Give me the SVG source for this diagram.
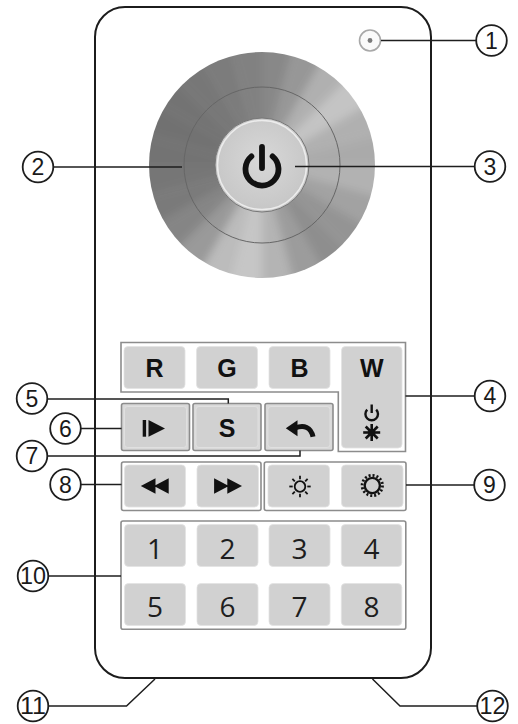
<svg xmlns="http://www.w3.org/2000/svg" width="518" height="724" viewBox="0 0 518 724">
  <style>
    .body { fill: #ffffff; stroke: #1c1c1c; stroke-width: 2; }
    .frame { fill: #ffffff; stroke: #8c8c8c; stroke-width: 1.6; }
    .frame-fill { fill: #d9d9d9; stroke: #8c8c8c; stroke-width: 1.6; }
    .key { fill: #d1d1d1; stroke: #e2e2e2; stroke-width: 0.8; }
    .lbl { font-family: "Liberation Sans", Arial, sans-serif; font-weight: bold; font-size: 25px; fill: #111; text-anchor: middle; }
    .num { font-family: "Open Sans", "Noto Sans", sans-serif; font-size: 28px; fill: #1e1e1e; text-anchor: middle; }
    .icon { fill: #111; }
    .icon-line { fill: none; stroke: #111; }
    .lead { fill: none; stroke: #1e1e1e; stroke-width: 1.5; }
    .badge { fill: #ffffff; stroke: #1e1e1e; stroke-width: 1.8; }
    .badge-t { font-family: "Liberation Sans", Arial, sans-serif; font-size: 23px; fill: #1a1a1a; text-anchor: middle; }
  </style>
  <defs>
    <clipPath id="wheelClip"><circle cx="262" cy="165" r="113"/></clipPath>
    <filter id="soft" x="-20%" y="-20%" width="140%" height="140%">
      <feGaussianBlur stdDeviation="4.5"/>
    </filter>
    <radialGradient id="capFill" cx="50%" cy="45%" r="55%">
      <stop offset="0" stop-color="#d8d8d8"/>
      <stop offset="1" stop-color="#c6c6c6"/>
    </radialGradient>
  </defs>

  <!-- remote housing -->
  <g id="housing">
    <rect class="body" x="95" y="7" width="336" height="671" rx="30"/>
  </g>

  <!-- status LED -->
  <g id="led">
    <circle cx="370" cy="40.5" r="10.5" fill="#fafafa" stroke="#a8a8a8" stroke-width="1.6"/>
    <circle cx="370" cy="40.5" r="2.4" fill="#7a7a7a"/>
  </g>

  <!-- touch wheel with brushed metal look -->
  <g id="wheel">
    <g clip-path="url(#wheelClip)">
      <g filter="url(#soft)" transform="translate(262,165)">
        <path d="M0,0 L0,-125 L32.35,-120.74 Z" fill="#888888"/>
        <path d="M0,0 L32.35,-120.74 L62.5,-108.25 Z" fill="#979797"/>
        <path d="M0,0 L62.5,-108.25 L88.39,-88.39 Z" fill="#b0b0b0"/>
        <path d="M0,0 L88.39,-88.39 L108.25,-62.5 Z" fill="#c4c4c4"/>
        <path d="M0,0 L108.25,-62.5 L120.74,-32.35 Z" fill="#b0b0b0"/>
        <path d="M0,0 L120.74,-32.35 L125,0 Z" fill="#aaaaaa"/>
        <path d="M0,0 L125,0 L120.74,32.35 Z" fill="#b2b2b2"/>
        <path d="M0,0 L120.74,32.35 L108.25,62.5 Z" fill="#a2a2a2"/>
        <path d="M0,0 L108.25,62.5 L88.39,88.39 Z" fill="#949494"/>
        <path d="M0,0 L88.39,88.39 L62.5,108.25 Z" fill="#8e8e8e"/>
        <path d="M0,0 L62.5,108.25 L32.35,120.74 Z" fill="#9c9c9c"/>
        <path d="M0,0 L32.35,120.74 L0,125 Z" fill="#b4b4b4"/>
        <path d="M0,0 L0,125 L-32.35,120.74 Z" fill="#c6c6c6"/>
        <path d="M0,0 L-32.35,120.74 L-62.5,108.25 Z" fill="#bcbcbc"/>
        <path d="M0,0 L-62.5,108.25 L-88.39,88.39 Z" fill="#9a9a9a"/>
        <path d="M0,0 L-88.39,88.39 L-108.25,62.5 Z" fill="#858585"/>
        <path d="M0,0 L-108.25,62.5 L-120.74,32.35 Z" fill="#7a7a7a"/>
        <path d="M0,0 L-120.74,32.35 L-125,0 Z" fill="#767676"/>
        <path d="M0,0 L-125,0 L-120.74,-32.35 Z" fill="#737373"/>
        <path d="M0,0 L-120.74,-32.35 L-108.25,-62.5 Z" fill="#717171"/>
        <path d="M0,0 L-108.25,-62.5 L-88.39,-88.39 Z" fill="#737373"/>
        <path d="M0,0 L-88.39,-88.39 L-62.5,-108.25 Z" fill="#777777"/>
        <path d="M0,0 L-62.5,-108.25 L-32.35,-120.74 Z" fill="#7c7c7c"/>
        <path d="M0,0 L-32.35,-120.74 L0,-125 Z" fill="#818181"/>
      </g>
    </g>
    <circle cx="262" cy="165" r="78" fill="none" stroke="#666" stroke-width="1"/>
  </g>

  <!-- central power key -->
  <g id="power-key">
    <circle cx="262" cy="165" r="47" fill="url(#capFill)" stroke="#777" stroke-width="1"/>
    <circle cx="262" cy="165" r="44.5" fill="none" stroke="#ececec" stroke-width="1.5"/>
    <path class="icon-line" stroke-width="5.8" stroke-linecap="round" d="M251.4,156.4 A16.5,16.5 0 1 0 272.6,156.4"/>
    <line class="icon-line" stroke-width="5.8" stroke-linecap="round" x1="262" y1="147" x2="262" y2="168"/>
  </g>

  <!-- colour keys R G B W -->
  <g id="rgbw-keys">
    <path class="frame" d="M121,342.5 H405.5 V451.5 H338.3 V392 H121 Z"/>
    <rect class="key" x="124" y="346.5" width="61" height="42" rx="4"/>
    <rect class="key" x="196.5" y="346.5" width="61" height="42" rx="4"/>
    <rect class="key" x="269" y="346.5" width="61" height="42" rx="4"/>
    <rect class="key" x="341.5" y="346.5" width="60.5" height="101.5" rx="4"/>
    <text class="lbl" x="154.5" y="377">R</text>
    <text class="lbl" x="227" y="377">G</text>
    <text class="lbl" x="299.5" y="377">B</text>
    <text class="lbl" x="371.7" y="377">W</text>
    <path class="icon-line" stroke-width="2.4" d="M367.2,409.6 A6.3,6.3 0 1 0 376.2,409.6"/>
    <line class="icon-line" stroke-width="2.4" x1="371.7" y1="404.5" x2="371.7" y2="413"/>
    <g class="icon-line" stroke-width="2.6">
      <line x1="371.7" y1="424" x2="371.7" y2="441"/>
      <line x1="363.2" y1="432.5" x2="380.2" y2="432.5"/>
      <line x1="365.7" y1="426.5" x2="377.7" y2="438.5"/>
      <line x1="365.7" y1="438.5" x2="377.7" y2="426.5"/>
    </g>
    <circle class="icon" cx="371.7" cy="432.5" r="3.6"/>
  </g>

  <!-- play / scene / back keys -->
  <g id="play-key">
    <rect class="frame-fill" x="121.5" y="403.5" width="68" height="47" rx="2"/>
    <rect class="key" x="124.5" y="406.5" width="62" height="41" rx="3"/>
    <rect class="icon" x="142.7" y="420" width="3.4" height="16.7"/>
    <path class="icon" d="M148.5,420 L165,428.4 L148.5,436.7 Z"/>
  </g>
  <g id="scene-key">
    <rect class="frame-fill" x="193" y="403.5" width="68" height="47" rx="2"/>
    <rect class="key" x="196" y="406.5" width="62" height="41" rx="3"/>
    <text class="lbl" x="227" y="437">S</text>
  </g>
  <g id="back-key">
    <rect class="frame-fill" x="265" y="403.5" width="68" height="47" rx="2"/>
    <rect class="key" x="268" y="406.5" width="62" height="41" rx="3"/>
    <path class="icon" d="M285.8,428.3 L297.5,420.3 L297.5,436.3 Z"/>
    <path class="icon-line" stroke-width="5" d="M295,428 C304,424.5 311,427 313,436.8"/>
  </g>

  <!-- speed keys -->
  <g id="speed-keys">
    <rect class="frame" x="121.5" y="462" width="139.5" height="48.5" rx="2"/>
    <rect class="key" x="124.5" y="465" width="61" height="42" rx="4"/>
    <rect class="key" x="197" y="465" width="61.5" height="42" rx="4"/>
    <path class="icon" d="M140.8,486 L155.5,478.3 L155.5,493.7 Z M154,486 L168.7,478.3 L168.7,493.7 Z"/>
    <path class="icon" d="M242,486 L227.3,478.3 L227.3,493.7 Z M228.8,486 L214.1,478.3 L214.1,493.7 Z"/>
  </g>

  <!-- brightness keys -->
  <g id="brightness-keys">
    <rect class="frame" x="264.3" y="462" width="141.7" height="48.5" rx="2"/>
    <rect class="key" x="268" y="465" width="61.5" height="42" rx="4"/>
    <rect class="key" x="341.5" y="465" width="61.5" height="42" rx="4"/>
    <circle cx="300" cy="486.5" r="5.3" fill="none" stroke="#111" stroke-width="1.8"/>
    <g class="icon-line" stroke-width="1.8">
      <line x1="300" y1="475.8" x2="300" y2="479.2"/>
      <line x1="300" y1="493.8" x2="300" y2="497.2"/>
      <line x1="289.3" y1="486.5" x2="292.7" y2="486.5"/>
      <line x1="307.3" y1="486.5" x2="310.7" y2="486.5"/>
      <line x1="292.4" y1="478.9" x2="294.8" y2="481.3"/>
      <line x1="305.2" y1="491.7" x2="307.6" y2="494.1"/>
      <line x1="292.4" y1="494.1" x2="294.8" y2="491.7"/>
      <line x1="305.2" y1="481.3" x2="307.6" y2="478.9"/>
    </g>
    <circle cx="372.3" cy="485.5" r="10.2" fill="none" stroke="#111" stroke-width="2.8" stroke-dasharray="2 2"/>
    <circle cx="372.3" cy="485.5" r="7.6" fill="#cfcfcf" stroke="#111" stroke-width="2.4"/>
  </g>

  <!-- scene number keys -->
  <g id="number-keys">
    <rect class="frame" x="121" y="521" width="284.8" height="108.3" rx="2"/>
    <rect class="key" x="124.5" y="524.5" width="61" height="42" rx="4"/>
    <rect class="key" x="197" y="524.5" width="61" height="42" rx="4"/>
    <rect class="key" x="269" y="524.5" width="61" height="42" rx="4"/>
    <rect class="key" x="341.3" y="524.5" width="60.5" height="42" rx="4"/>
    <rect class="key" x="124.5" y="583.5" width="61" height="42" rx="4"/>
    <rect class="key" x="197" y="583.5" width="61" height="42" rx="4"/>
    <rect class="key" x="269" y="583.5" width="61" height="42" rx="4"/>
    <rect class="key" x="341.3" y="583.5" width="60.5" height="42" rx="4"/>
    <text class="num" x="155" y="558.5">1</text>
    <text class="num" x="227.5" y="558.5">2</text>
    <text class="num" x="299.5" y="558.5">3</text>
    <text class="num" x="371.5" y="558.5">4</text>
    <text class="num" x="155" y="617">5</text>
    <text class="num" x="227.5" y="617">6</text>
    <text class="num" x="299.5" y="617">7</text>
    <text class="num" x="371.5" y="617">8</text>
  </g>

  <!-- leader lines -->
  <g id="connectors">
    <path class="lead" d="M381,40.5 H476"/>
    <path class="lead" d="M53.5,167 H182"/>
    <path class="lead" d="M295,166.5 H474.5"/>
    <path class="lead" d="M405.5,396 H474.5"/>
    <path class="lead" d="M47.5,399 H228.3 V403.5"/>
    <path class="lead" d="M81,428.5 H121.5"/>
    <path class="lead" d="M47.5,456 H300 V450.5"/>
    <path class="lead" d="M81,484.5 H121.5"/>
    <path class="lead" d="M406,485 H474"/>
    <path class="lead" d="M48.5,576 H121"/>
    <path class="lead" d="M48.5,706 H126.5 L155,679"/>
    <path class="lead" d="M477,706 H400 L372.5,679"/>
  </g>

  <!-- numbered callouts -->
  <g id="callout-1"><circle class="badge" cx="491.5" cy="40.5" r="15.3"/><text class="badge-t" x="491.5" y="48.8">1</text></g>
  <g id="callout-2"><circle class="badge" cx="38" cy="167" r="15.3"/><text class="badge-t" x="38" y="175.3">2</text></g>
  <g id="callout-3"><circle class="badge" cx="490" cy="166.5" r="15.3"/><text class="badge-t" x="490" y="174.8">3</text></g>
  <g id="callout-4"><circle class="badge" cx="490" cy="396" r="15.3"/><text class="badge-t" x="490" y="404.3">4</text></g>
  <g id="callout-5"><circle class="badge" cx="32" cy="398.5" r="15.3"/><text class="badge-t" x="32" y="406.8">5</text></g>
  <g id="callout-6"><circle class="badge" cx="65.5" cy="428.5" r="15.3"/><text class="badge-t" x="65.5" y="436.8">6</text></g>
  <g id="callout-7"><circle class="badge" cx="32" cy="456" r="15.3"/><text class="badge-t" x="32" y="464.3">7</text></g>
  <g id="callout-8"><circle class="badge" cx="65.5" cy="484.5" r="15.3"/><text class="badge-t" x="65.5" y="492.8">8</text></g>
  <g id="callout-9"><circle class="badge" cx="489.5" cy="485" r="15.3"/><text class="badge-t" x="489.5" y="493.3">9</text></g>
  <g id="callout-10"><circle class="badge" cx="33" cy="576" r="15.3"/><text class="badge-t" x="33" y="584.3" textLength="26" lengthAdjust="spacingAndGlyphs">10</text></g>
  <g id="callout-11"><circle class="badge" cx="33" cy="706" r="15.3"/><text class="badge-t" x="33" y="714.3" textLength="26" lengthAdjust="spacingAndGlyphs">11</text></g>
  <g id="callout-12"><circle class="badge" cx="492.5" cy="706" r="15.3"/><text class="badge-t" x="492.5" y="714.3" textLength="26" lengthAdjust="spacingAndGlyphs">12</text></g>
</svg>
